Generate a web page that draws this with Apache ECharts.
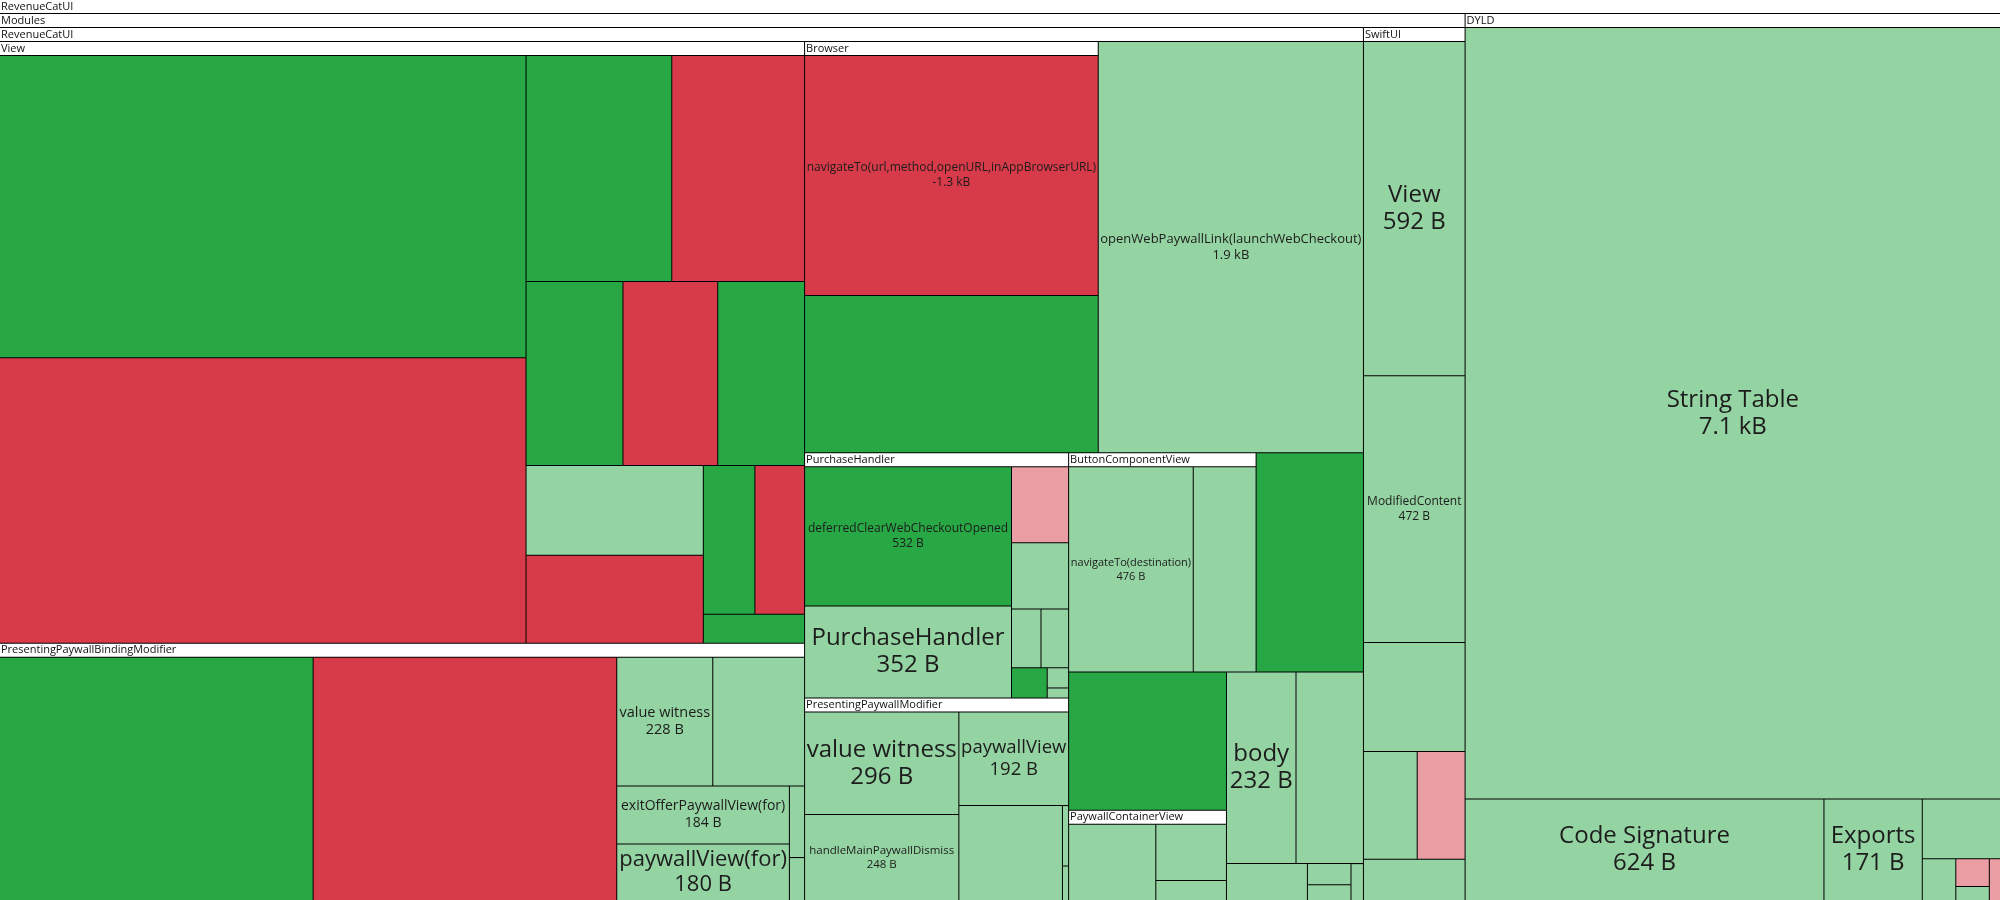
<!DOCTYPE html>
<html>
<head>
<meta charset="utf-8">
<title>RevenueCatUI size diff</title>
<script src="https://cdn.jsdelivr.net/npm/echarts@6/dist/echarts.min.js"></script>
<style>
  html, body { margin: 0; padding: 0; background: #fff; }
  #chart { width: 2000px; height: 900px; }
</style>
</head>
<body>
<div id="chart"></div>
<script>
// Each entry: [symbol name, change in bytes, status]
// status: A = added, I = grew, R = removed, D = shrank
const viewItems = [
  ['', 2838, 'A'], ['', -2680, 'R'], ['', 587, 'A'], ['', -535, 'R'],
  ['', 318, 'A'], ['', -311, 'R'], ['', 285, 'A'], ['', 284, 'I'],
  ['', -278, 'R'], ['', 137, 'A'], ['', -132, 'R'], ['', 52, 'A']
]
const bindingModifierItems = [
  ['', 1406, 'A'], ['', -1361, 'R'], ['value witness', 228, 'I'], ['', 218, 'I'],
  ['exitOfferPaywallView(for)', 184, 'I'], ['paywallView(for)', 180, 'I'],
  ['', 20, 'I'], ['', 12, 'I']
]
const browserItems = [
  ['navigateTo(url,method,openURL,inAppBrowserURL)', -1271, 'R'], ['', 833, 'A']
]
const purchaseHandlerItems = [
  ['deferredClearWebCheckoutOpened', 532, 'A'], ['PurchaseHandler', 352, 'I'], ['', -80, 'D'],
  ['', 70, 'I'], ['', 32, 'I'], ['', 30, 'I'], ['', 20, 'A'], ['', 8, 'I'], ['', 4, 'I']
]
const paywallModifierItems = [
  ['value witness', 296, 'I'], ['handleMainPaywallDismiss', 248, 'I'], ['paywallView', 192, 'I'],
  ['', 184, 'I'], ['', 7, 'I'], ['', 4, 'I']
]
const buttonComponentItems = [['navigateTo(destination)', 476, 'I'], ['', 240, 'I']]
const containerViewItems = [['', 137, 'I'], ['', 82, 'I'], ['', 29, 'I']]
const revenueCatLooseItems = [
  ['openWebPaywallLink(launchWebCheckout)', 1900, 'I'], ['', 410, 'A'], ['', 380, 'A'],
  ['body', 232, 'I'], ['', 225, 'I'], ['', 52, 'I'], ['', 16, 'I'], ['', 12, 'I'], ['', 8, 'I']
]
const swiftUIItems = [
  ['View', 592, 'I'], ['ModifiedContent', 472, 'I'], ['', 193, 'I'],
  ['', 101, 'I'], ['', -90, 'D'], ['', 73, 'I']
]
const dyldItems = [
  ['String Table', 7080, 'I'], ['Code Signature', 624, 'I'], ['Exports', 171, 'I'], ['', 80, 'I'],
  ['', 24, 'I'], ['', -16, 'D'], ['', -8, 'D'], ['', 8, 'I']
]

const FONT = 'Open Sans'
const STATUS_COLOR = { A: '#28a745', I: '#94d3a2', R: '#d73a49', D: '#eb9da4' }
const MAX_FONT = 24

function fmtBytes(b) {
  const a = Math.abs(b)
  const s = a >= 1000 ? (a / 1000).toFixed(1) + ' kB' : a + ' B'
  return (b < 0 ? '-' : '') + s
}

// Build the tree; keep a lookup so label sizes can be added after layout
const leafById = {}
let uid = 0
const leaf = ([name, bytes, status]) => {
  const id = 'n' + uid++
  const item = { id, name, value: Math.abs(bytes), bytes, itemStyle: { color: STATUS_COLOR[status] } }
  leafById[id] = item
  return item
}
const group = (name, children) => ({ name, children })

const tree = [
  group('RevenueCatUI', [
    group('Modules', [
      group('RevenueCatUI', [
        group('View', viewItems.map(leaf)),
        group('PresentingPaywallBindingModifier', bindingModifierItems.map(leaf)),
        group('Browser', browserItems.map(leaf)),
        group('PurchaseHandler', purchaseHandlerItems.map(leaf)),
        group('PresentingPaywallModifier', paywallModifierItems.map(leaf)),
        group('ButtonComponentView', buttonComponentItems.map(leaf)),
        group('PaywallContainerView', containerViewItems.map(leaf)),
        ...revenueCatLooseItems.map(leaf),
      ]),
      group('SwiftUI', swiftUIItems.map(leaf)),
    ]),
    group('DYLD', dyldItems.map(leaf)),
  ]),
]

// Text width in em, used to scale each label to its cell
const ctx = document.createElement('canvas').getContext('2d')
function emWidth(text) {
  ctx.font = '100px ' + FONT
  return ctx.measureText(text).width / 100
}

function fitLabel(item, w, h) {
  if (!item.name) return { label: { show: false } }
  const valueText = fmtBytes(item.bytes)
  const em = Math.max(emWidth(item.name), emWidth(valueText))
  let size = Math.min(MAX_FONT, (w - 3) / em)
  let text = item.name + '\n' + valueText
  if (2 * (size + 3) > h) {
    // Only the name fits
    size = Math.min(MAX_FONT, (w - 3) / emWidth(item.name), h * 0.85)
    text = item.name
  }
  size = Math.floor(size * 2) / 2
  if (size < 6) return { label: { show: false } }
  return { labelText: text, label: { show: true, fontSize: size, lineHeight: size + 3 } }
}

const chart = echarts.init(document.getElementById('chart'))

chart.setOption({
  animation: false,
  series: [
    {
      id: 'sizeDiff',
      type: 'treemap',
      left: 0,
      top: 0,
      width: '100%',
      height: '100%',
      roam: false,
      nodeClick: false,
      breadcrumb: { show: false },
      sort: 'desc',
      visibleMin: 0,
      itemStyle: { borderColor: '#000', borderWidth: 0, gapWidth: 1 },
      // Group headers: white strip with a 1px dark line below (parent background shows through)
      upperLabel: {
        show: true,
        height: 14,
        formatter: (p) => '{h|' + p.name + '}',
        rich: {
          h: {
            backgroundColor: '#fff',
            width: '100%',
            height: 13,
            lineHeight: 14,
            verticalAlign: 'top',
            fontSize: 11,
            fontFamily: FONT,
            color: '#111',
            padding: [0, 0, 0, 1],
          },
        },
      },
      label: {
        show: true,
        position: 'inside',
        align: 'center',
        verticalAlign: 'middle',
        padding: 0,
        color: '#1c1c1c',
        fontFamily: FONT,
        formatter: (p) => (p.data && p.data.labelText) || '',
      },
      levels: [{ itemStyle: { borderWidth: 0, gapWidth: 0 }, upperLabel: { show: false } }],
      data: tree,
    },
  ],
})

// Second pass: size each label from the cell the layout gave it
const seriesData = chart.getModel().getSeriesByIndex(0).getData()
for (let i = 0; i < seriesData.count(); i++) {
  const raw = seriesData.getRawDataItem(i)
  const item = raw && leafById[raw.id]
  const lay = seriesData.getItemLayout(i)
  if (!item || !lay) continue
  Object.assign(item, fitLabel(item, lay.width, lay.height))
}
chart.setOption({ series: [{ id: 'sizeDiff', data: tree }] })
</script>
</body>
</html>
